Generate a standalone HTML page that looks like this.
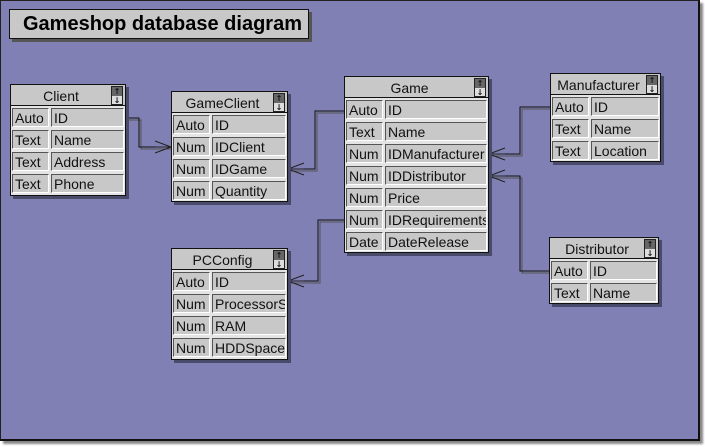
<!DOCTYPE html>
<html><head><meta charset="utf-8"><style>
*{margin:0;padding:0;box-sizing:border-box}
body{width:705px;height:447px;background:#fff;position:relative;overflow:hidden;font-family:"Liberation Sans",sans-serif}
#bg{position:absolute;left:0;top:0;width:700px;height:441px;background:#8080b4;border:1px solid #222;border-right:2px solid #111;border-bottom:2px solid #111;box-shadow:3px 3px 2px #888}
.title{position:absolute;left:9px;top:9px;width:300px;height:30px;background:#c8c8c8;border:1px solid #111;box-shadow:3px 3px 0 #555;font:bold 20px "Liberation Sans",sans-serif;line-height:28px;padding-left:13px}
.t{position:absolute;background:#e4e4e4;border:1px solid #111;box-shadow:3px 3px 0 #4a4a6a}
.h{height:21px;background:#c8c8c8;border-bottom:1px solid #111;text-align:center;font-size:14px;line-height:22px;padding-right:14px;position:relative;color:#111}
.sc{position:absolute;right:2px;top:1px;width:12px;height:19px;border:1px solid #222;background:#ddd}
.sc:before{content:"";position:absolute;left:0;top:0;width:10px;height:9px;background:#666}
.sc i{position:absolute;left:1px;font-style:normal;font-size:8px;line-height:9px;font-weight:bold;width:8px;text-align:center;font-family:"DejaVu Sans",sans-serif}
.r{height:22px;position:relative}
.c{position:absolute;top:2px;height:19px;background:#c8c8c8;border-top:1px solid #555;border-left:1px solid #555;border-bottom:1px solid #fff;border-right:1px solid #fff;font-size:14px;line-height:19px;padding-left:2px;white-space:nowrap;overflow:hidden;color:#111}
.a{left:1px;width:37px}
.b{left:40px;right:1px}
svg{position:absolute;left:0;top:0}
</style></head><body>
<div id="bg"></div>
<div class="title">Gameshop database diagram</div>
<svg width="705" height="447">
<g fill="none" stroke-width="1">
<path d="M127 120 H141 V149 H171" stroke="#555"/><path d="M126 118 H139 V147 H171" stroke="#111"/>
<path d="M345 113 H317 V171 H288" stroke="#555"/><path d="M344 111 H315 V169 H288" stroke="#111"/>
<path d="M345 222 H320 V283 H288" stroke="#555"/><path d="M344 220 H318 V281 H288" stroke="#111"/>
<path d="M551 109 H522 V156 H489" stroke="#555"/><path d="M550 107 H520 V154 H489" stroke="#111"/>
<path d="M550 273 H522 V178 H489" stroke="#555"/><path d="M549 271 H520 V176 H489" stroke="#111"/>
</g>
<g stroke="#222" fill="none">
<path d="M171 147 L155 141 M171 147 L155 147 M171 147 L155 153"/>
<path d="M288 169 L304 163 M288 169 L304 169 M288 169 L304 175"/>
<path d="M288 281 L304 275 M288 281 L304 281 M288 281 L304 287"/>
<path d="M489 154 L505 148 M489 154 L505 154 M489 154 L505 160"/>
<path d="M489 176 L505 170 M489 176 L505 176 M489 176 L505 182"/>
</g>
</svg>

<div class="t" style="left:10px;top:84px;width:116px;height:112px"><div class="h">Client<span class="sc"><i style="top:0">↑</i><i style="top:9px">↓</i></span></div>
<div class="r"><div class="c a">Auto</div><div class="c b">ID</div></div>
<div class="r"><div class="c a">Text</div><div class="c b">Name</div></div>
<div class="r"><div class="c a">Text</div><div class="c b">Address</div></div>
<div class="r"><div class="c a">Text</div><div class="c b">Phone</div></div></div>

<div class="t" style="left:171px;top:91px;width:117px;height:111px;overflow:hidden"><div class="h">GameClient<span class="sc"><i style="top:0">↑</i><i style="top:9px">↓</i></span></div>
<div class="r"><div class="c a">Auto</div><div class="c b">ID</div></div>
<div class="r"><div class="c a">Num</div><div class="c b">IDClient</div></div>
<div class="r"><div class="c a">Num</div><div class="c b">IDGame</div></div>
<div class="r"><div class="c a">Num</div><div class="c b">Quantity</div></div></div>

<div class="t" style="left:344px;top:76px;width:145px;height:177px"><div class="h">Game<span class="sc"><i style="top:0">↑</i><i style="top:9px">↓</i></span></div>
<div class="r"><div class="c a">Auto</div><div class="c b">ID</div></div>
<div class="r"><div class="c a">Text</div><div class="c b">Name</div></div>
<div class="r"><div class="c a">Num</div><div class="c b">IDManufacturer</div></div>
<div class="r"><div class="c a">Num</div><div class="c b">IDDistributor</div></div>
<div class="r"><div class="c a">Num</div><div class="c b">Price</div></div>
<div class="r"><div class="c a">Num</div><div class="c b">IDRequirements</div></div>
<div class="r"><div class="c a">Date</div><div class="c b">DateRelease</div></div></div>

<div class="t" style="left:550px;top:73px;width:111px;height:89px"><div class="h">Manufacturer<span class="sc"><i style="top:0">↑</i><i style="top:9px">↓</i></span></div>
<div class="r"><div class="c a">Auto</div><div class="c b">ID</div></div>
<div class="r"><div class="c a">Text</div><div class="c b">Name</div></div>
<div class="r"><div class="c a">Text</div><div class="c b">Location</div></div></div>

<div class="t" style="left:549px;top:237px;width:110px;height:67px"><div class="h">Distributor<span class="sc"><i style="top:0">↑</i><i style="top:9px">↓</i></span></div>
<div class="r"><div class="c a">Auto</div><div class="c b">ID</div></div>
<div class="r"><div class="c a">Text</div><div class="c b">Name</div></div></div>

<div class="t" style="left:171px;top:248px;width:117px;height:112px"><div class="h">PCConfig<span class="sc"><i style="top:0">↑</i><i style="top:9px">↓</i></span></div>
<div class="r"><div class="c a">Auto</div><div class="c b">ID</div></div>
<div class="r"><div class="c a">Num</div><div class="c b">ProcessorS</div></div>
<div class="r"><div class="c a">Num</div><div class="c b">RAM</div></div>
<div class="r"><div class="c a">Num</div><div class="c b">HDDSpace</div></div></div>
</body></html>
